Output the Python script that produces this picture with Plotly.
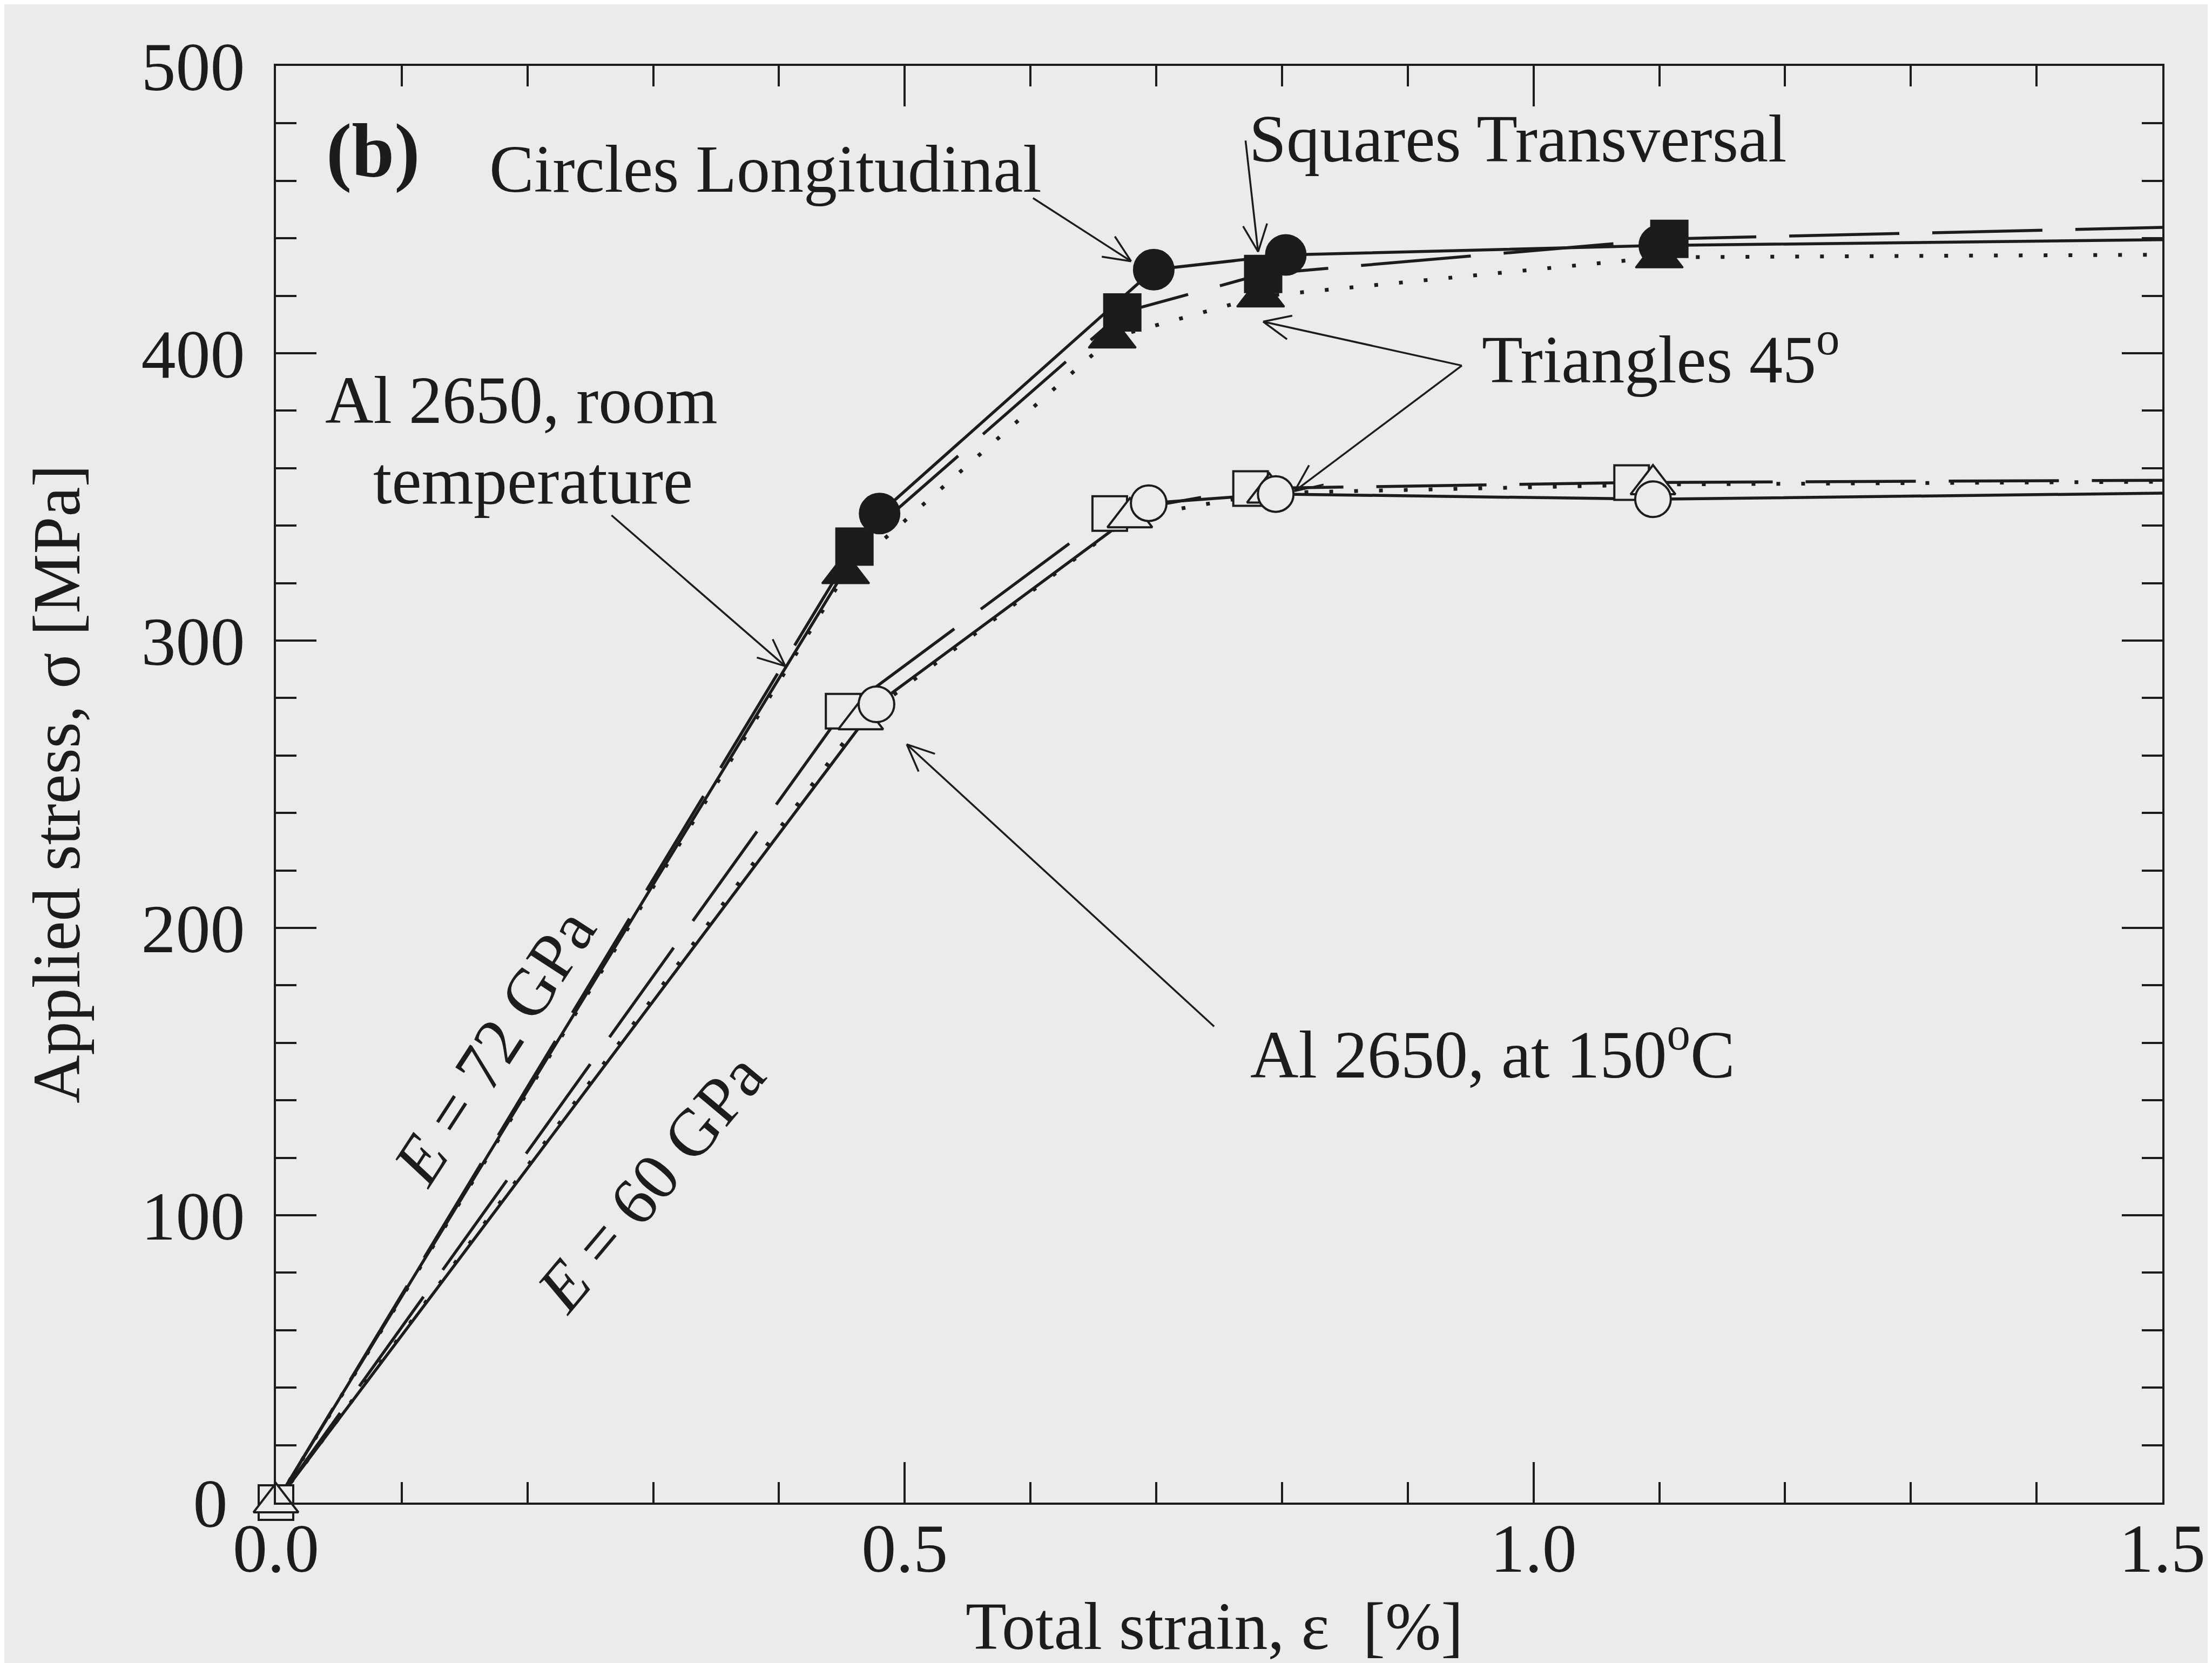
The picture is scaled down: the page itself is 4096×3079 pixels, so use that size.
import math
import plotly.graph_objects as go

# ---------------- data ----------------
# Room temperature (filled markers)
rt_circ_strain = [0.0, 0.480, 0.698, 0.803, 1.100, 1.5]
rt_circ_stress = [0.0, 344.2, 429.1, 434.2, 437.5, 439.5]
rt_sq_strain = [0.0, 0.460, 0.673, 0.785, 1.108, 1.5]
rt_sq_stress = [0.0, 332.7, 414.2, 427.6, 439.8, 443.8]
rt_tri_strain = [0.0, 0.453, 0.665, 0.783, 1.100, 1.5]
rt_tri_stress = [0.0, 323.5, 405.5, 419.8, 433.4, 434.3]

# 150 C (open markers)
ht_circ_strain = [0.0, 0.4775, 0.694, 0.795, 1.095, 1.5]
ht_circ_stress = [0.0, 277.8, 347.8, 351.0, 349.2, 351.3]
ht_sq_strain = [0.0, 0.451, 0.663, 0.775, 1.078, 1.5]
ht_sq_stress = [0.0, 275.4, 344.2, 352.9, 355.0, 355.8]
ht_tri_strain = [0.0, 0.465, 0.679, 0.790, 1.095, 1.5]
ht_tri_stress = [0.0, 272.5, 342.8, 351.4, 354.3, 355.3]

x_ticks = [0.0, 0.5, 1.0, 1.5]
y_ticks = [0, 100, 200, 300, 400, 500]

# ---------------- style ----------------
W, H = 4096, 3079
ML, MR, MT, MB = 503, 100, 114, 305
PW, PH = W - ML - MR, H - MT - MB
XR, YR = [0, 1.5], [0, 500]
INK = "#1c1c1c"
BG = "#ebebeb"
FONT = "Liberation Serif"
FS = 124       # annotation / title text
FT = 128       # tick labels

LW = 5.5
LONGDASH = "204px,61px"
DOT = "7px,39px"

fig = go.Figure()

def add_series(sx, sy, dash, symbol, filled, size, width, marker_from):
    fig.add_trace(go.Scatter(x=sx, y=sy, mode="lines",
                             line=dict(color=INK, width=width, dash=dash),
                             showlegend=False, hoverinfo="skip"))
    return (sx[marker_from:-1], sy[marker_from:-1], symbol, filled, size)

markers = []
markers.append(add_series(rt_tri_strain, rt_tri_stress, DOT, "triangle-up", True, 76, 7, 1))
markers.append(add_series(rt_sq_strain, rt_sq_stress, LONGDASH, "square", True, 68, LW, 1))
markers.append(add_series(rt_circ_strain, rt_circ_stress, "solid", "circle", True, 74, LW, 1))
markers.append(add_series(ht_sq_strain, ht_sq_stress, LONGDASH, "square", False, 64, LW, 0))
markers.append(add_series(ht_tri_strain, ht_tri_stress, DOT, "triangle-up", False, 72, 7, 0))
markers.append(add_series(ht_circ_strain, ht_circ_stress, "solid", "circle", False, 66, LW, 1))

for mx, my, sym, filled, size in markers:
    fig.add_trace(go.Scatter(
        x=mx, y=my, mode="markers", cliponaxis=False,
        marker=dict(symbol=sym, size=size,
                    color=INK if filled else BG,
                    line=dict(color=INK, width=3 if filled else 4)),
        showlegend=False, hoverinfo="skip"))

# ---------------- arrows (shaft + open V head) ----------------
sxp = PW / (XR[1] - XR[0])
syp = PH / (YR[1] - YR[0])
shapes = []

def arrow(x0, y0, x1, y1, head=True, L=55, ang=24):
    shapes.append(dict(type="line", xref="x", yref="y", x0=x0, y0=y0, x1=x1, y1=y1,
                       line=dict(color=INK, width=3.5), layer="above"))
    if not head:
        return
    dx, dy = (x0 - x1) * sxp, (y0 - y1) * syp
    n = math.hypot(dx, dy)
    ux, uy = dx / n, dy / n
    for s in (1, -1):
        a = math.radians(ang * s)
        rx = ux * math.cos(a) - uy * math.sin(a)
        ry = ux * math.sin(a) + uy * math.cos(a)
        shapes.append(dict(type="line", xref="x", yref="y", x0=x1, y0=y1,
                           x1=x1 + rx * L / sxp, y1=y1 + ry * L / syp,
                           line=dict(color=INK, width=3.5), layer="above"))

arrow(0.602, 454.0, 0.680, 432.0)          # Circles Longitudinal
arrow(0.771, 474.0, 0.781, 435.3)          # Squares Transversal
arrow(0.943, 395.7, 0.785, 411.0)          # Triangles 45 (filled)
arrow(0.943, 395.7, 0.810, 352.0)          # Triangles 45 (open)
arrow(0.2668, 343.6, 0.405, 291.1)         # room temperature
arrow(0.746, 165.7, 0.5016, 263.9)         # at 150 C

# ---------------- text labels ----------------
def label(text, x, y, xanchor="center", angle=0, size=FS):
    fig.add_annotation(text=text, x=x, y=y, xref="x", yref="y", showarrow=False,
                       xanchor=xanchor, yanchor="middle", textangle=angle,
                       font=dict(family=FONT, size=size, color=INK))

label("<b>(b)</b>", 0.0775, 470.5, size=142)
label("Circles Longitudinal", 0.1687, 464.0, xanchor="left")
label("Squares Transversal", 0.773, 474.6, xanchor="left")
label("Triangles 45<sup>o</sup>", 0.958, 399.5, xanchor="left")
label("Al 2650, room", 0.195, 383.5)
label("temperature", 0.2045, 355.5)
label("Al 2650, at 150<sup>o</sup>C", 0.774, 157.5, xanchor="left")
label("<i>E</i> = 72 GPa", 0.1734, 158.6, angle=-57)
label("<i>E</i> = 60 GPa", 0.298, 111.3, angle=-50)

# axis titles
fig.add_annotation(text="Total strain, ε  [%]", xref="paper", yref="paper",
                   x=(2240 - ML) / PW, y=0, yshift=-229, showarrow=False,
                   xanchor="center", yanchor="middle",
                   font=dict(family=FONT, size=FS, color=INK))
fig.add_annotation(text="Applied stress, σ [MPa]", xref="paper", yref="paper",
                   x=0, xshift=-(ML - 97), y=0.5, showarrow=False, textangle=-90,
                   xanchor="center", yanchor="middle",
                   font=dict(family=FONT, size=FS, color=INK))

axis_common = dict(showline=True, linewidth=4, linecolor=INK, mirror="allticks",
                   ticks="inside", ticklen=75, tickwidth=4, tickcolor=INK,
                   showgrid=False, zeroline=False,
                   tickfont=dict(family=FONT, size=FT, color=INK))

fig.update_xaxes(range=XR, tickvals=x_ticks, ticktext=[f"{v:.1f}" for v in x_ticks],
                 ticklabelstandoff=-30,
                 minor=dict(ticks="inside", ticklen=38, tickwidth=3.5, tickcolor=INK,
                            dtick=0.1, tick0=0, showgrid=False),
                 **axis_common)
fig.update_yaxes(range=YR, tickvals=y_ticks,
                 ticktext=[(str(v) + "\u00a0") if v == 0 else str(v) for v in y_ticks],
                 ticklabelstandoff=28,
                 minor=dict(ticks="inside", ticklen=38, tickwidth=3.5, tickcolor=INK,
                            dtick=20, tick0=0, showgrid=False),
                 **axis_common)

fig.update_layout(width=W, height=H, autosize=False,
                  margin=dict(l=ML, r=MR, t=MT, b=MB, pad=0),
                  paper_bgcolor=BG, plot_bgcolor=BG,
                  shapes=shapes, showlegend=False)

fig.write_html("out.html")
